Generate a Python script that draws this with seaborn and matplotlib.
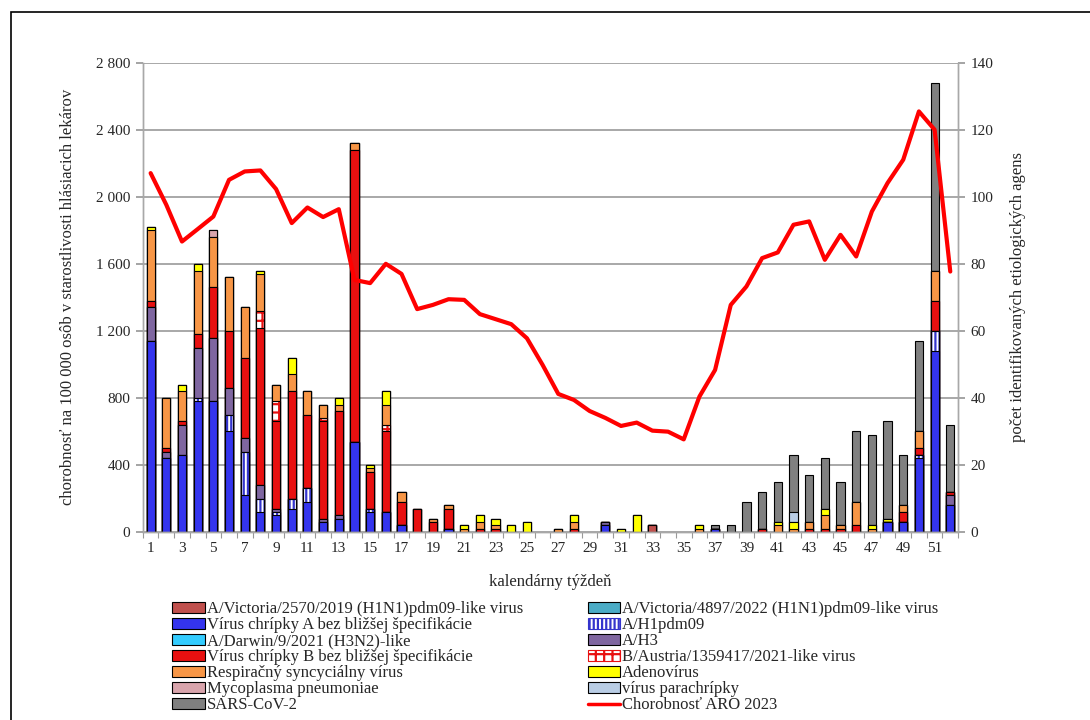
"""Chorobnosť ARO 2023 a identifikované etiologické agens podľa kalendárneho týždňa."""
import numpy as np
import matplotlib
matplotlib.use("Agg")
import matplotlib.pyplot as plt
from matplotlib.patches import Patch, Rectangle
from matplotlib.lines import Line2D
from matplotlib.ticker import FuncFormatter
import seaborn as sns

weeks = list(range(1, 53))

# chorobnosť ARO na 100 000 osôb (ľavá os)
aro_2023 = [2141, 1952, 1733, 1807, 1882, 2101, 2151, 2157, 2046, 1843, 1936, 1879, 1926,
            1504, 1485, 1600, 1540, 1330, 1355, 1389, 1385, 1300, 1270, 1240, 1156, 997,
            824, 788, 722, 681, 633, 653, 605, 599, 553, 808, 967, 1355, 1465, 1634, 1668, 1833,
            1853, 1624, 1773, 1644, 1912, 2082, 2221, 2509, 2400, 1554]

# počty identifikovaných agens (pravá os), týždne 1-52
a_unspec = [57, 22, 23, 39, 39, 30, 11, 6, 5, 7, 9, 3, 4,
            27, 6, 6, 2, 0, 0, 1, 0, 0, 0, 0, 0, 0,
            0, 0, 0, 2, 0, 0, 0, 0, 0, 0, 1, 0, 0,
            0, 0, 0, 0, 0, 0, 0, 0, 3, 3, 22, 54, 8]
a_h1pdm09 = [0, 0, 0, 1, 0, 5, 13, 4, 1, 3, 4, 0, 0,
             0, 1, 0, 0, 0, 0, 0, 0, 0, 0, 0, 0, 0,
             0, 0, 0, 0, 0, 0, 0, 0, 0, 0, 0, 0, 0,
             0, 0, 0, 0, 0, 0, 0, 0, 0, 0, 1, 6, 0]
a_darwin = [0] * 52
a_h3 = [10, 2, 9, 15, 19, 8, 4, 4, 1, 0, 0, 1, 1,
        0, 0, 0, 0, 0, 0, 0, 0, 0, 0, 0, 0, 0,
        0, 0, 0, 1, 0, 0, 0, 0, 0, 0, 0, 0, 0,
        0, 0, 0, 0, 0, 0, 0, 0, 0, 0, 0, 0, 3]
a_victoria_2570 = [0, 0, 0, 0, 0, 0, 0, 0, 0, 0, 0, 0, 0,
                   0, 0, 0, 0, 0, 0, 0, 0, 0, 0, 0, 0, 0,
                   0, 0, 0, 0, 0, 0, 2, 0, 0, 0, 0, 0, 0,
                   0, 0, 0, 0, 0, 0, 0, 0, 0, 0, 0, 0, 0]
a_victoria_4897 = [0] * 52
b_unspec = [2, 1, 1, 4, 15, 17, 24, 47, 26, 32, 22, 29, 31,
            87, 11, 24, 7, 7, 3, 6, 0, 1, 1, 0, 0, 0,
            0, 1, 0, 0, 0, 0, 0, 0, 0, 0, 0, 0, 0,
            1, 0, 0, 1, 1, 1, 2, 0, 0, 3, 2, 9, 1]
b_austria = [0, 0, 0, 0, 0, 0, 0, 5, 6, 0, 0, 1, 0,
             0, 0, 2, 0, 0, 0, 0, 0, 0, 0, 0, 0, 0,
             0, 0, 0, 0, 0, 0, 0, 0, 0, 0, 0, 0, 0,
             0, 0, 0, 0, 0, 0, 0, 0, 0, 0, 0, 0, 0]
rsv = [21, 15, 9, 19, 15, 16, 15, 11, 5, 5, 7, 4, 2,
       2, 1, 6, 3, 0, 1, 1, 1, 2, 1, 0, 0, 0,
       1, 2, 0, 0, 0, 0, 0, 0, 0, 1, 0, 0, 0,
       0, 2, 1, 2, 4, 1, 7, 1, 0, 2, 5, 9, 0]
adeno = [1, 0, 2, 2, 0, 0, 0, 1, 0, 5, 0, 0, 2,
         0, 1, 4, 0, 0, 0, 0, 1, 2, 2, 2, 3, 0,
         0, 2, 0, 0, 1, 5, 0, 0, 0, 1, 0, 0, 0,
         0, 1, 2, 0, 2, 0, 0, 1, 1, 0, 0, 0, 0]
mycoplasma = [0, 0, 0, 0, 2, 0, 0, 0, 0, 0, 0, 0, 0,
              0, 0, 0, 0, 0, 0, 0, 0, 0, 0, 0, 0, 0,
              0, 0, 0, 0, 0, 0, 0, 0, 0, 0, 0, 0, 0,
              0, 0, 0, 0, 0, 0, 0, 0, 0, 0, 0, 0, 0]
parainfluenza = [0, 0, 0, 0, 0, 0, 0, 0, 0, 0, 0, 0, 0,
                 0, 0, 0, 0, 0, 0, 0, 0, 0, 0, 0, 0, 0,
                 0, 0, 0, 0, 0, 0, 0, 0, 0, 0, 0, 0, 0,
                 0, 0, 3, 0, 0, 0, 0, 0, 0, 0, 0, 0, 0]
sars_cov2 = [0, 0, 0, 0, 0, 0, 0, 0, 0, 0, 0, 0, 0,
             0, 0, 0, 0, 0, 0, 0, 0, 0, 0, 0, 0, 0,
             0, 0, 0, 0, 0, 0, 0, 0, 0, 0, 1, 2, 9,
             11, 12, 17, 14, 15, 13, 21, 27, 29, 15, 27, 56, 20]

# (legend label, values, face colour, hatch, hatch colour) in stacking order, bottom first
LAYERS = [
    ("Vírus chrípky A bez bližšej špecifikácie", a_unspec, "#3434EE", None, None),
    ("A/H1pdm09", a_h1pdm09, "white", "||||", "#3434CC"),
    ("A/Darwin/9/2021 (H3N2)-like", a_darwin, "#33CCFF", None, None),
    ("A/H3", a_h3, "#7F66A0", None, None),
    ("A/Victoria/2570/2019 (H1N1)pdm09-like virus", a_victoria_2570, "#C0504D", None, None),
    ("A/Victoria/4897/2022 (H1N1)pdm09-like virus", a_victoria_4897, "#4BACC6", None, None),
    ("Vírus chrípky B bez bližšej špecifikácie", b_unspec, "#E81010", None, None),
    ("B/Austria/1359417/2021-like virus", b_austria, "white", "++", "#E81010"),
    ("Respiračný syncyciálny vírus", rsv, "#F79646", None, None),
    ("Adenovírus", adeno, "#FFFF00", None, None),
    ("Mycoplasma pneumoniae", mycoplasma, "#D8A4AC", None, None),
    ("vírus parachrípky", parainfluenza, "#B9CDE5", None, None),
    ("SARS-CoV-2", sars_cov2, "#808080", None, None),
]
LEGEND_ORDER = [
    "A/Victoria/2570/2019 (H1N1)pdm09-like virus", "A/Victoria/4897/2022 (H1N1)pdm09-like virus",
    "Vírus chrípky A bez bližšej špecifikácie", "A/H1pdm09",
    "A/Darwin/9/2021 (H3N2)-like", "A/H3",
    "Vírus chrípky B bez bližšej špecifikácie", "B/Austria/1359417/2021-like virus",
    "Respiračný syncyciálny vírus", "Adenovírus",
    "Mycoplasma pneumoniae", "vírus parachrípky",
    "SARS-CoV-2", "Chorobnosť ARO 2023",
]

sns.set_theme(style="white")
plt.rcParams["font.family"] = ["Liberation Serif", "DejaVu Serif"]
plt.rcParams["hatch.linewidth"] = 1.6

fig = plt.figure(figsize=(10.9, 7.2), dpi=100)
ax = fig.add_axes([0.131, 0.261, 0.748, 0.652])   # bars, right axis
ax2 = ax.twinx()                                   # ARO line, left axis

# stacked bars: draw cumulative totals from the top layer down
cum = np.cumsum(np.array([v for _, v, _, _, _ in LAYERS], dtype=float), axis=0)
for i in range(len(LAYERS) - 1, -1, -1):
    label, vals, face, hatch, hcol = LAYERS[i]
    heights = np.where(cum[i] > 0, cum[i], np.nan)
    if hatch is None:
        sns.barplot(x=weeks, y=heights, native_scale=True, ax=ax, color=face, saturation=1,
                    edgecolor="black", linewidth=0.8, width=0.52, errorbar=None)
    else:
        sns.barplot(x=weeks, y=heights, native_scale=True, ax=ax, color=face, saturation=1,
                    edgecolor=hcol, hatch=hatch, linewidth=0.8, width=0.52, errorbar=None)
        sns.barplot(x=weeks, y=heights, native_scale=True, ax=ax, color="black", fill=False,
                    linewidth=0.8, width=0.52, errorbar=None)

sns.lineplot(x=weeks, y=aro_2023, ax=ax2, color="#FF0000", linewidth=3)

# axes cosmetics
ax.set_xlim(0.5, 52.5)
ax.set_ylim(0, 140)
ax2.set_ylim(0, 2800)
ax.set_yticks(range(0, 141, 20))
ax2.set_yticks(range(0, 2801, 400))
ax2.yaxis.set_major_formatter(FuncFormatter(lambda v, p: f"{int(v):,}".replace(",", " ")))
ax.yaxis.tick_right()
ax.yaxis.set_label_position("right")
ax2.yaxis.tick_left()
ax2.yaxis.set_label_position("left")

ax.set_xticks(range(1, 53, 2))
ax.set_xticks(np.arange(0.5, 53, 1), minor=True)
ax.tick_params(axis="x", which="major", length=0, pad=7, labelsize=11)
ax.tick_params(axis="x", which="minor", length=4, color="#999999", width=0.8, bottom=True)
ax.tick_params(axis="y", length=5, color="#999999", labelsize=11, pad=4)
ax2.tick_params(axis="y", length=5, color="#999999", labelsize=11, pad=4)

ax.set_axisbelow(True)
ax.yaxis.grid(True, color="#A8A8A8", linewidth=1.4)
ax.xaxis.grid(False)
for a in (ax, ax2):
    a.spines["top"].set_visible(False)
    for s in ("left", "right", "bottom"):
        a.spines[s].set_color("#A8A8A8")
        a.spines[s].set_linewidth(1.0)

ax.set_xlabel("kalendárny týždeň", fontsize=12, labelpad=14)
ax.set_ylabel("počet identifikovaných etiologických agens", fontsize=12, labelpad=12)
ax2.set_ylabel("chorobnosť na 100 000 osôb v starostlivosti hlásiacich lekárov", fontsize=12, labelpad=14)

# legend in two columns, filled row by row
handles = {}
for label, _, face, hatch, hcol in LAYERS:
    if hatch is None:
        handles[label] = Patch(facecolor=face, edgecolor="black", linewidth=0.8)
    else:
        handles[label] = Patch(facecolor=face, edgecolor=hcol, hatch=hatch, linewidth=0.8)
handles["Chorobnosť ARO 2023"] = Line2D([], [], color="#FF0000", linewidth=2.5)

left_col = LEGEND_ORDER[0::2]
right_col = LEGEND_ORDER[1::2]
for col, xpos in ((left_col, 0.152), (right_col, 0.533)):
    fig.legend([handles[k] for k in col], col, loc="upper left", bbox_to_anchor=(xpos, 0.174),
               frameon=False, fontsize=12, handlelength=1.95, handleheight=0.65,
               handletextpad=0.12, labelspacing=0.0, borderaxespad=0)

# outer frame
fig.add_artist(Rectangle((0.010, -0.1), 1.2, 0.1 + 0.983, transform=fig.transFigure,
                         fill=False, edgecolor="black", linewidth=1.2))

fig.savefig("out.png", dpi=100)
